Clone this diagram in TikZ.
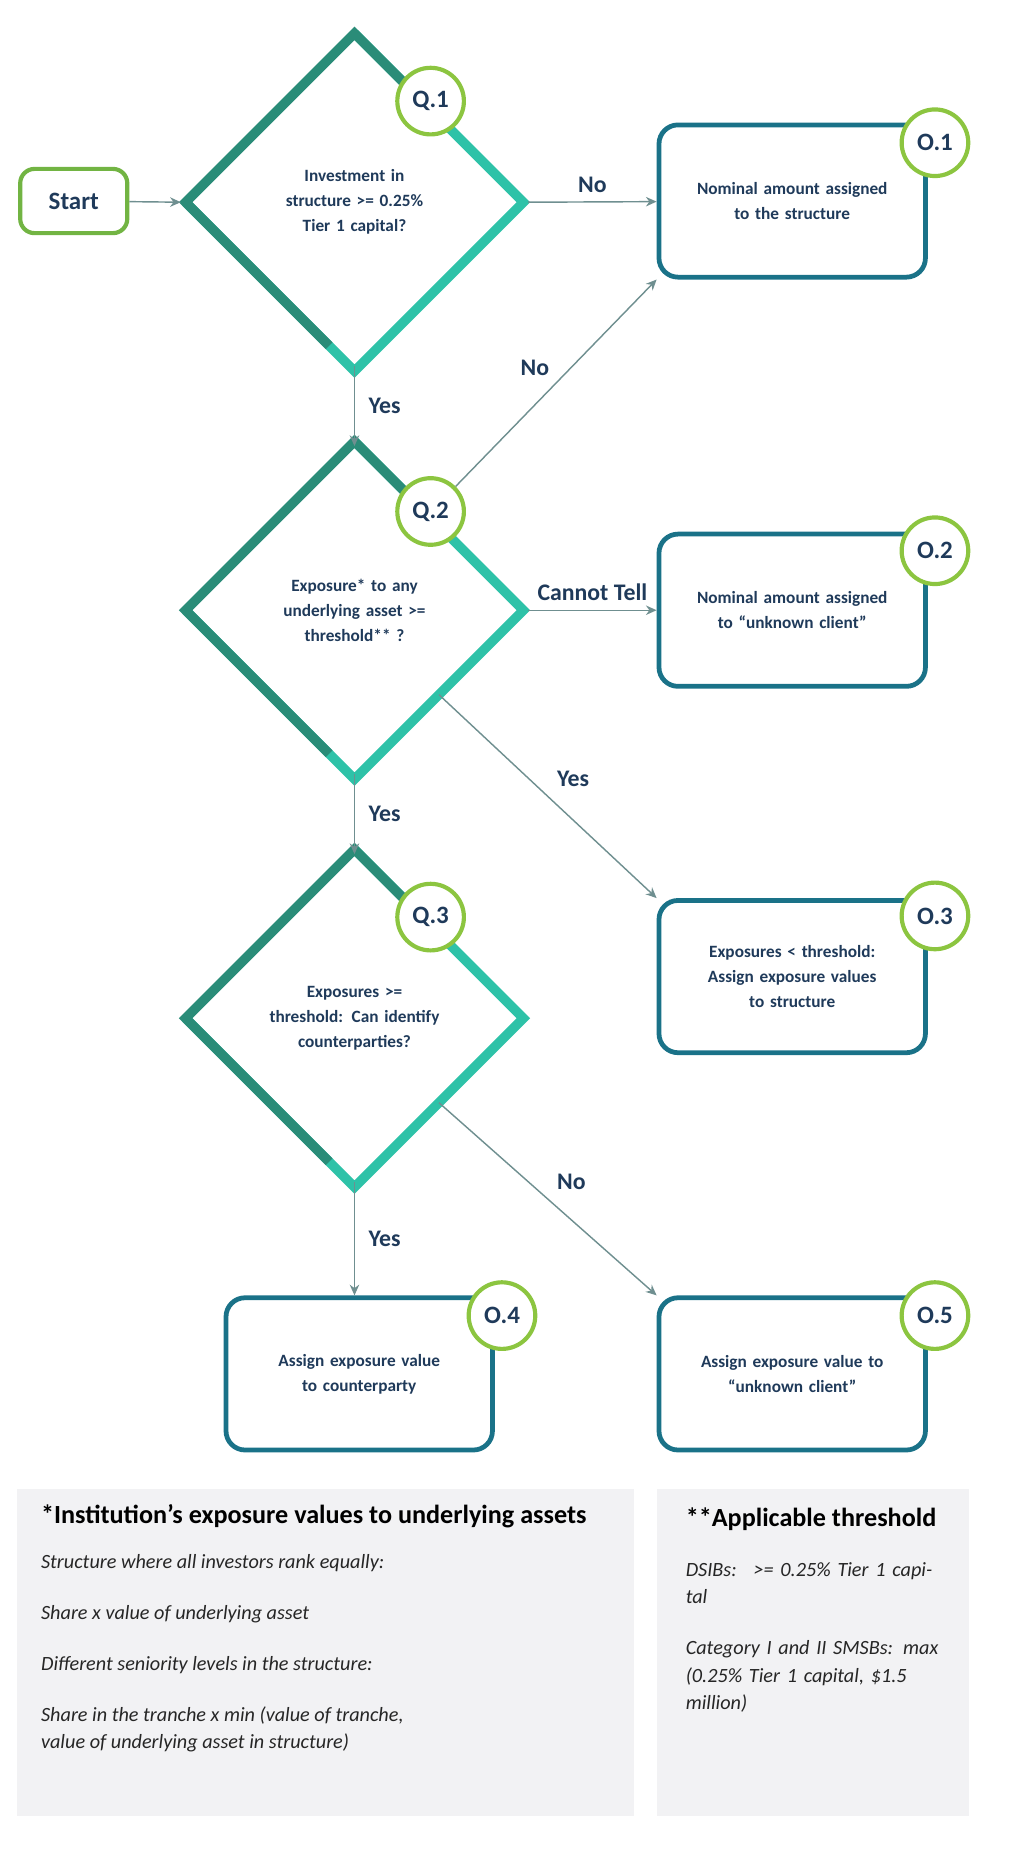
\documentclass[tikz,border=0pt]{standalone}
\usepackage{fontspec}
\setmainfont{Carlito}
\usetikzlibrary{shapes.geometric,arrows.meta,calc}
\definecolor{navy}{HTML}{1F3A5A}
\definecolor{qdark}{HTML}{2A8C78}
\definecolor{qlight}{HTML}{2EC2A8}
\definecolor{obox}{HTML}{1A7288}
\definecolor{ring}{HTML}{8CC540}
\definecolor{startc}{HTML}{72B443}
\definecolor{flow}{HTML}{6F8F90}
\definecolor{note}{HTML}{F2F2F4}
\tikzset{
  question/.style={diamond,aspect=1,minimum width=284pt,minimum height=284pt,inner sep=0pt,
    outer sep=0pt,text width=150pt,align=center,text=navy,
    font=\fontsize{14.5}{21}\selectfont\bfseries},
  outcome/.style={rectangle,rounded corners=16pt,draw=obox,line width=4pt,minimum width=224pt,
    minimum height=128pt,text width=210pt,align=center,text=navy,
    font=\fontsize{14.5}{21}\selectfont\bfseries},
  tag/.style={circle,draw=ring,line width=3.5pt,fill=white,minimum size=56pt,inner sep=0pt,
    text=navy,font=\fontsize{21}{21}\selectfont\bfseries},
  flowarrow/.style={draw=flow,line width=1.2pt,-{Stealth[length=9pt,width=8pt]}},
  answer/.style={text=navy,font=\fontsize{20}{20}\selectfont\bfseries},
  notetext/.style={anchor=north west,text=black!85,align=left,
    font=\fontsize{17}{23}\selectfont\itshape},
}
\begin{document}
\begin{tikzpicture}[x=1pt,y=-1pt]
  \useasboundingbox (0,0) rectangle (850,1562);
  %% start
  \node[rectangle,rounded corners=12pt,draw=startc,line width=3.5pt,minimum width=90pt,
    minimum height=54pt,text=navy,font=\fontsize{21}{21}\selectfont\bfseries] (start) at (62,169) {Start};
  %% questions
  \node[question] (q1) at (298,170) {Investment in\\structure >= 0.25\%\\Tier 1 capital?};
  \node[question] (q2) at (298,513) {Exposure* to any\\underlying asset >=\\threshold** ?};
  \node[question] (q3) at (298,856) {Exposures >=\\threshold: Can identify\\counterparties?};
  \foreach \q in {q1,q2,q3} {
    \draw[qlight,line width=8pt,line join=miter] ($(\q.north)!0.45!(\q.east)$) -- (\q.east) -- (\q.south) -- cycle[draw=none];
    \draw[qlight,line width=8pt,line join=miter] (\q.north) -- (\q.east) -- (\q.south) -- (\q.west);
    \draw[qdark,line width=8pt,line join=miter] ($(\q.south)!0.15!(\q.west)$) -- (\q.west) -- (\q.north) -- ($(\q.north)!0.45!(\q.east)$);
  }
  %% outcomes
  \node[outcome] (o1) at (666,169) {Nominal amount assigned\\to the structure};
  \node[outcome] (o2) at (666,513) {Nominal amount assigned\\to “unknown client”};
  \node[outcome] (o3) at (666,821) {Exposures < threshold:\\Assign exposure values\\to structure};
  \node[outcome] (o4) at (302,1155) {Assign exposure value\\to counterparty};
  \node[outcome] (o5) at (666,1155) {Assign exposure value to\\“unknown client”};
  %% tags
  \node[tag] (q1c) at (362,85) {Q.1};
  \node[tag] (q2c) at (362,430) {Q.2};
  \node[tag] (q3c) at (362,771) {Q.3};
  \node[tag] (o1c) at (786,120) {O.1};
  \node[tag] (o2c) at (786,463) {O.2};
  \node[tag] (o3c) at (786,770) {O.3};
  \node[tag] (o4c) at (422,1106) {O.4};
  \node[tag] (o5c) at (786,1106) {O.5};
  %% connectors
  \draw[flowarrow] (start) -- ([xshift=-4pt]q1.west);
  \draw[flowarrow] ([xshift=4pt]q1.east) -- node[answer,above=4pt] {No} (o1);
  \draw[flowarrow] ([yshift=4pt]q1.south) -- node[answer,right=8pt] {Yes} ([yshift=-4pt]q2.north);
  \draw[flowarrow] (q2c.45) -- node[answer,above left=2pt] {No} (o1.south west);
  \draw[flowarrow] ([xshift=4pt]q2.east) -- node[answer,above=4pt] {Cannot Tell} (o2);
  \draw[flowarrow] (q2.-45) -- node[answer,above right=4pt] {Yes} (o3.north west);
  \draw[flowarrow] ([yshift=4pt]q2.south) -- node[answer,right=8pt] {Yes} ([yshift=-4pt]q3.north);
  \draw[flowarrow] ([yshift=4pt]q3.south) -- node[answer,right=8pt] {Yes} (o4.north -| q3);
  \draw[flowarrow] (q3.-45) -- node[answer,above right=4pt] {No} (o5.north west);
  %% notes
  \fill[note] (14,1252) rectangle (533,1527);
  \fill[note] (552,1252) rectangle (815,1527);
  \node[anchor=west,text=black,font=\fontsize{22}{22}\selectfont\bfseries] (n1) at (31,1275) {*Institution’s exposure values to underlying assets};
  \node[notetext] (n1b) at (31,1303) {Structure where all investors rank equally:\\[20pt]Share x value of underlying asset\\[20pt]Different seniority levels in the structure:\\[20pt]Share in the tranche x min (value of tranche,\\value of underlying asset in structure)};
  \node[anchor=west,text=black,font=\fontsize{22}{22}\selectfont\bfseries] (n2) at (573,1277) {**Applicable threshold};
  \node[notetext,text width=215pt] (n2b) at (573,1310) {DSIBs:~ >= 0.25\% Tier 1 capital\\[20pt]Category I and II SMSBs: max (0.25\% Tier 1 capital, \$1.5 million)};
\end{tikzpicture}
\end{document}
